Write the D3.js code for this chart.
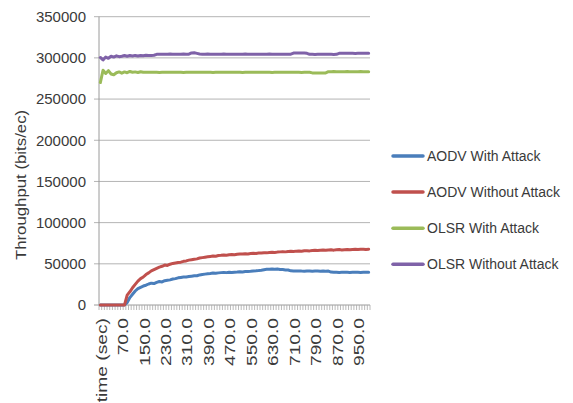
<!DOCTYPE html>
<html>
<head>
<meta charset="utf-8">
<script src="https://cdn.jsdelivr.net/npm/d3@7"></script>
<style>
  html, body { margin: 0; padding: 0; background: #fff; }
  svg { display: block; }
  text { font-family: "Liberation Sans", Arial, sans-serif; fill: #3a3a3a; }
</style>
</head>
<body>
<svg id="chart" width="573" height="403"></svg>
<script>
// Category axis: a header cell followed by the sampling times (seconds)
const categories = ["time (sec)",
  "0.0","10.0","20.0","30.0","40.0","50.0","60.0","70.0","80.0","90.0",
  "100.0","110.0","120.0","130.0","140.0","150.0","160.0","170.0","180.0","190.0",
  "200.0","210.0","220.0","230.0","240.0","250.0","260.0","270.0","280.0","290.0",
  "300.0","310.0","320.0","330.0","340.0","350.0","360.0","370.0","380.0","390.0",
  "400.0","410.0","420.0","430.0","440.0","450.0","460.0","470.0","480.0","490.0",
  "500.0","510.0","520.0","530.0","540.0","550.0","560.0","570.0","580.0","590.0",
  "600.0","610.0","620.0","630.0","640.0","650.0","660.0","670.0","680.0","690.0",
  "700.0","710.0","720.0","730.0","740.0","750.0","760.0","770.0","780.0","790.0",
  "800.0","810.0","820.0","830.0","840.0","850.0","860.0","870.0","880.0","890.0",
  "900.0","910.0","920.0","930.0","940.0","950.0","960.0","970.0","980.0","990.0"];

const aodvWithAttack = [
  0,0,0,0,0,0,0,0,0,0,
  3000,9000,13000,17000,20000,21500,23000,24000,25500,26500,
  26000,27500,28500,28000,29500,30000,30500,31500,32000,33000,
  33500,34000,34000,34500,35000,35500,35500,36500,37000,37500,
  38000,38300,38800,38600,39000,39300,39600,39300,39700,39500,
  39800,40000,40300,40200,40600,40800,41000,41300,41500,41800,
  42200,42800,43300,43500,43800,43500,43600,43200,43000,42600,
  42500,41500,41300,41200,41400,41200,41100,41300,41200,41000,
  41200,41300,41100,41200,41000,41200,40000,39700,39800,39600,
  39700,39800,39700,39600,39700,39800,39700,39600,39700,39700,
  39700];

const aodvWithoutAttack = [
  0,0,0,0,0,0,0,0,0,0,
  12000,16000,21000,25000,29000,32000,34000,37000,39000,41500,
  43000,44500,46000,47000,48500,48000,49500,50500,51000,51500,
  52000,53000,53500,54500,55000,55500,56000,57000,57500,58000,
  58500,59000,59500,59200,60000,60300,60800,60500,61000,61300,
  61000,61500,62000,61800,62200,62000,62500,62800,62500,63000,
  63200,63500,63300,63800,64000,63700,64200,64500,64800,64500,
  65000,65200,64900,65400,65600,65300,65800,66000,65700,66200,
  66400,66100,66500,66700,66400,66800,67000,66600,67100,67300,
  66900,67200,67500,67100,67400,67700,67300,67600,67800,67500,
  67600];

const olsrWithAttack = [
  270000,285000,281000,284500,280500,279500,282000,283000,281500,283000,
  282000,283500,282500,283000,282300,283200,282500,282500,282600,282500,
  282500,282500,282400,282500,282500,282500,282600,282500,282500,282500,
  282500,282400,282500,282500,282500,282500,282600,282500,282500,282500,
  282500,282500,282400,282500,282500,282500,282500,282600,282500,282500,
  282500,282500,282500,282400,282500,282500,282500,282500,282600,282500,
  282500,282500,282500,282500,282400,282500,282500,282500,282500,282500,
  282600,282500,282500,282500,282500,282400,282500,282500,282500,281800,
  281800,281700,281800,281800,281800,283300,283300,283400,283300,283300,
  283300,283300,283400,283300,283300,283300,283300,283400,283300,283300,
  283300];

const olsrWithoutAttack = [
  300500,297500,301000,299500,302000,301000,302500,301500,302000,302800,
  302000,302800,302200,303000,302300,303000,302500,303200,302800,303000,
  303200,304300,304500,304400,304500,304500,304600,304500,304400,304500,
  304500,304600,304500,304500,306000,306200,305500,304800,304500,304500,
  304600,304500,304500,304400,304500,304500,304600,304500,304500,304500,
  304400,304500,304500,304500,304600,304500,304500,304500,304500,304400,
  304500,304500,304500,304600,304500,304500,304500,304500,304400,304500,
  304500,304500,305800,306000,306000,305900,306000,305600,304300,304300,
  304200,304300,304300,304300,304400,304300,304300,304200,304300,305500,
  305500,305600,305500,305500,305500,305400,305500,305500,305600,305500,
  305500];

const yTicks = [0, 50000, 100000, 150000, 200000, 250000, 300000, 350000];
const seriesNames = ["AODV With Attack", "AODV Without Attack", "OLSR With Attack", "OLSR Without Attack"];
const seriesColors = ["#4a7ebb", "#c0504d", "#9bbb59", "#7f62a8"];
const seriesValues = [aodvWithAttack, aodvWithoutAttack, olsrWithAttack, olsrWithoutAttack];
const labelEvery = 8;

const svg = d3.select("#chart");
const plot = { left: 99, right: 370, top: 16.7, bottom: 305 };

const x = d3.scaleBand().domain(categories).range([plot.left, plot.right]).padding(0);
const y = d3.scaleLinear().domain([0, 350000]).range([plot.bottom, plot.top]);

// Horizontal gridlines with short outward ticks on the value axis
svg.append("g").selectAll("line").data(yTicks.filter(d => d > 0)).join("line")
  .attr("x1", plot.left - 5).attr("x2", plot.right)
  .attr("y1", d => y(d)).attr("y2", d => y(d))
  .attr("stroke", "#b4b4b4").attr("stroke-width", 1);

// Value axis line
svg.append("line")
  .attr("x1", plot.left).attr("x2", plot.left)
  .attr("y1", plot.top).attr("y2", plot.bottom)
  .attr("stroke", "#9a9a9a");

// Value axis labels
svg.append("g").selectAll("text").data(yTicks).join("text")
  .attr("x", 86).attr("y", d => y(d))
  .attr("dy", "0.35em")
  .attr("text-anchor", "end")
  .style("font-size", "15px")
  .text(d => d);

// Category axis: baseline plus a tick at every category boundary
svg.append("line")
  .attr("x1", plot.left - 5).attr("x2", plot.right)
  .attr("y1", plot.bottom).attr("y2", plot.bottom)
  .attr("stroke", "#9a9a9a");
const boundaries = categories.map(c => x(c)).concat([plot.right]);
svg.append("g").selectAll("line").data(boundaries).join("line")
  .attr("x1", d => d).attr("x2", d => d)
  .attr("y1", plot.bottom).attr("y2", plot.bottom + 5)
  .attr("stroke", "#a8a8a8").attr("stroke-width", 0.8);

// Rotated category labels, every eighth category (drawn elongated along the text)
svg.append("g").selectAll("text")
  .data(categories.filter((c, i) => i % labelEvery === 0))
  .join("text")
  .attr("transform", d => `translate(${x(d) + x.bandwidth() / 2 + 1},${plot.bottom + 13}) rotate(-90) scale(1.28,1)`)
  .attr("dy", "0.35em")
  .attr("text-anchor", "end")
  .style("font-size", "15px")
  .text(d => d);

// Value axis title
svg.append("text")
  .attr("transform", "translate(21,185) rotate(-90) scale(1.2,1)")
  .attr("dy", "0.35em")
  .attr("text-anchor", "middle")
  .style("font-size", "14px")
  .text("Throughput (bits/ec)");

// Series lines
const line = d3.line()
  .x((d, i) => x(categories[i]) + x.bandwidth() / 2)
  .y(d => y(d));

svg.append("g").selectAll("path").data(seriesValues).join("path")
  .attr("d", d => line(d))
  .attr("fill", "none")
  .attr("stroke", (d, i) => seriesColors[i])
  .attr("stroke-width", 3)
  .attr("stroke-linejoin", "round")
  .attr("stroke-linecap", "round");

// Legend
const legend = svg.append("g").selectAll("g").data(seriesNames).join("g")
  .attr("transform", (d, i) => `translate(393,${156 + i * 36.1})`);
legend.append("line")
  .attr("x1", 0).attr("x2", 30)
  .attr("stroke", (d, i) => seriesColors[i])
  .attr("stroke-width", 3.5)
  .attr("stroke-linecap", "round");
legend.append("text")
  .attr("x", 34).attr("dy", "0.35em")
  .style("font-size", "14px")
  .text(d => d);
</script>
</body>
</html>
